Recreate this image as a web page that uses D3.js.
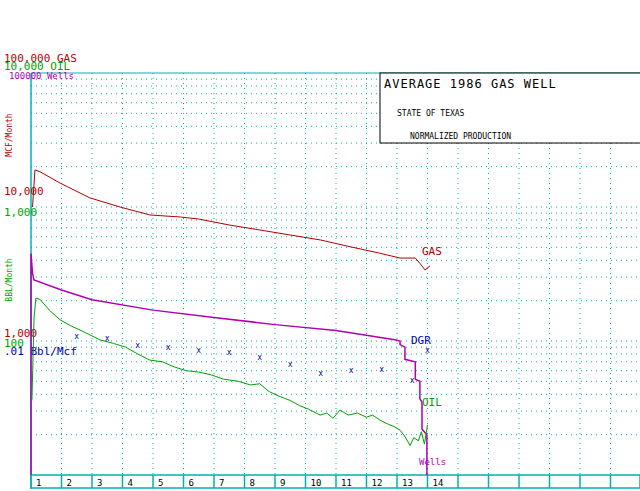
<!DOCTYPE html>
<html><head><meta charset="utf-8">
<script src="https://cdn.jsdelivr.net/npm/d3@7"></script>
<style>body{margin:0;background:#fff}svg{display:block}text{font-family:"DejaVu Sans Mono",monospace}</style>
</head><body><svg id="c" width="640" height="491"></svg>
<script>
// Data (years since start, values)
const gasYears = [0.05,0.13,0.3,0.95,1.93,2.92,3.9,4.9,5.5,6.5,7.5,8.5,9.5,10.5,11.4,12.1,12.6,12.75,12.92,13.08];
const gasValues = [10000,18900,18300,15100,11700,10000,8720,8420,8130,7340,6740,6180,5670,5030,4540,4160,4160,3800,3390,3630];
const oilYears = [0.03,0.1,0.16,0.3,0.6,0.95,1.3,1.7,2.26,2.7,3.1,3.5,3.9,4.3,4.7,5.1,5.5,5.9,6.3,6.8,7.2,7.5,7.8,8.1,8.5,8.8,9.1,9.48,9.7,9.9,10.13,10.4,10.7,11,11.2,11.44,11.7,11.9,12.1,12.25,12.43,12.55,12.7,12.8,12.9,13.0];
const oilValues = [36,150,209,204,170,144,130,118,102,96,90,80,72,70,64,60,58.6,56,52,50,47,48,42,39,36,33,31,28,29,26.5,30.5,28,29,27,28,25.7,24,23,21.6,19.5,16.6,19,18,21,17,23.7];
const wellYears = [0,0,0.05,0.1,1,2,4,6,8,10,11.93,12.1,12.1,12.26,12.26,12.6,12.6,12.75,12.75,12.82,12.82,12.98,12.98];
const wellValues = [100,4500,3200,2850,2400,2030,1700,1500,1325,1200,1020,1000,940,900,730,700,520,500,370,350,220,200,100];
const dgrYears = [1.5,2.5,3.5,4.5,5.5,6.5,7.5,8.5,9.5,10.5,11.5,12.5,13];
const dgrValues = [0.0109,0.0105,0.0093,0.0090,0.0086,0.0083,0.0076,0.0067,0.0058,0.0061,0.0062,0.0051,0.0086];
const yearTicks = [1,2,3,4,5,6,7,8,9,10,11,12,13,14,15,16,17,18,19,20];
const gasTickLabels = [[100000,"100,000 GAS"],[10000,"10,000"],[1000,"1,000"]];
const oilTickLabels = [[10000,"10,000 OIL"],[1000,"1,000"],[100,"100"]];

const L=31, R=640, T=73, B=475;
const svg=d3.select("#c");
const x=d3.scaleLinear().domain([0,20]).range([L,L+610]);
const yGas=d3.scaleLog().domain([100,100000]).range([B,T]);
const yOil=d3.scaleLog().domain([10,10000]).range([B,T]);
const yWell=d3.scaleLog().domain([100,100000]).range([B,T]);
const yDgr=d3.scaleLog().domain([0.001,1]).range([B,T]);
const teal="#00b0b0", red="#b00000", green="#00a000", purple="#b000b0", blue="#0000b0";

// grid
const gv=[];for(let d=100;d<100000;d*=10)for(let k=1;k<10;k++)gv.push(d*k);
svg.append("g").selectAll("line").data(gv.filter(v=>v>100)).join("line")
 .attr("x1",L).attr("x2",R).attr("y1",d=>yGas(d)).attr("y2",d=>yGas(d))
 .attr("stroke",teal).attr("stroke-dasharray","1,4");
svg.append("g").selectAll("line").data(yearTicks).join("line")
 .attr("x1",d=>x(d)).attr("x2",d=>x(d)).attr("y1",T).attr("y2",B)
 .attr("stroke",teal).attr("stroke-dasharray","1,4");
// frame
svg.append("line").attr("x1",L).attr("x2",R).attr("y1",T).attr("y2",T).attr("stroke",teal);
svg.append("line").attr("x1",L).attr("x2",L).attr("y1",T).attr("y2",489).attr("stroke",teal).attr("stroke-width",1.5);
svg.append("rect").attr("x",L).attr("y",B).attr("width",R-L).attr("height",13).attr("fill","none").attr("stroke",teal).attr("stroke-width",1.5);
svg.append("g").selectAll("line").data(yearTicks).join("line")
 .attr("x1",d=>x(d)).attr("x2",d=>x(d)).attr("y1",B).attr("y2",B+13).attr("stroke",teal).attr("stroke-width",1.5);
svg.append("g").selectAll("text").data(yearTicks.slice(0,14)).join("text")
 .attr("x",d=>x(d-1)+5).attr("y",B+11).attr("font-size",9).text(d=>d);

// title box
svg.append("rect").attr("x",380).attr("y",T).attr("width",262).attr("height",70).attr("fill","#fff").attr("stroke","#000");
svg.append("text").attr("x",384).attr("y",88).attr("font-size",12).attr("letter-spacing",1).text("AVERAGE 1986 GAS WELL");
svg.append("text").attr("x",397).attr("y",116).attr("font-size",8).text("STATE OF TEXAS");
svg.append("text").attr("x",410).attr("y",139).attr("font-size",8).text("NORMALIZED PRODUCTION");

// axis labels
svg.append("g").selectAll("text").data(gasTickLabels).join("text")
 .attr("x",4).attr("y",(d,i)=>i==0?62:yGas(d[0])-(i==1?12:4)).attr("font-size",11).attr("fill",red).text(d=>d[1]);
svg.append("g").selectAll("text").data(oilTickLabels).join("text")
 .attr("x",4).attr("y",(d,i)=>i==0?70:yOil(d[0])+(i==1?9:6)).attr("font-size",11).attr("fill",green).text(d=>d[1]);
svg.append("text").attr("x",9).attr("y",79).attr("font-size",9).attr("fill",purple).text("100000 Wells");
svg.append("text").attr("x",4).attr("y",355).attr("font-size",11).attr("fill",blue).text(".01 Bbl/Mcf");
svg.append("text").attr("transform","translate(12,135) rotate(-90)").attr("text-anchor","middle").attr("font-size",8).attr("fill",red).text("MCF/Month");
svg.append("text").attr("transform","translate(12,280) rotate(-90)").attr("text-anchor","middle").attr("font-size",8).attr("fill",green).text("BBL/Month");

// series
const line=(xs,vs,ys)=>d3.line().x((d,i)=>x(xs[i])).y(d=>ys(d))(vs);
svg.append("path").attr("d",line(wellYears,wellValues,yWell)).attr("fill","none").attr("stroke",purple).attr("stroke-width",1.5);
svg.append("path").attr("d",line(gasYears,gasValues,yGas)).attr("fill","none").attr("stroke",red);
svg.append("path").attr("d",line(oilYears,oilValues,yOil)).attr("fill","none").attr("stroke",green);
svg.append("g").selectAll("text").data(dgrValues).join("text")
 .attr("x",(d,i)=>x(dgrYears[i])).attr("y",d=>yDgr(d)+3).attr("text-anchor","middle").attr("font-size",8).attr("fill",blue).text("x");
svg.append("text").attr("x",422).attr("y",255).attr("font-size",11).attr("fill",red).text("GAS");
svg.append("text").attr("x",411).attr("y",344).attr("font-size",11).attr("fill",blue).text("DGR");
svg.append("text").attr("x",422).attr("y",406).attr("font-size",11).attr("fill",green).text("OIL");
svg.append("text").attr("x",419).attr("y",465).attr("font-size",9).attr("fill",purple).text("Wells");
</script></body></html>
